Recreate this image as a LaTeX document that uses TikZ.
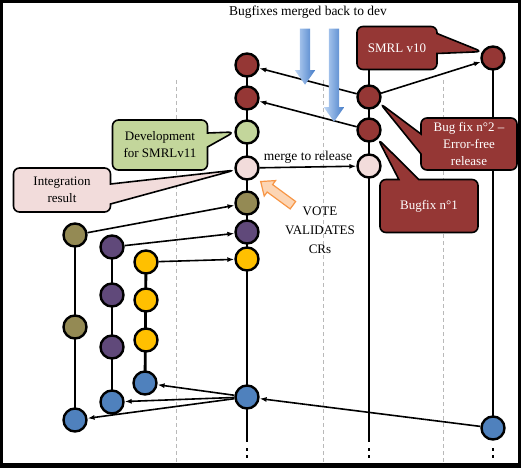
\documentclass[tikz,border=0pt]{standalone}
\usepackage{fontspec}
\setmainfont{Liberation Serif}
\usetikzlibrary{arrows.meta,shapes.callouts,shapes.arrows,backgrounds}
\definecolor{GitRed}{RGB}{149,55,53}
\definecolor{GitGreen}{RGB}{195,214,155}
\definecolor{GitPink}{RGB}{242,220,219}
\definecolor{GitOlive}{RGB}{148,138,84}
\definecolor{GitPurple}{RGB}{96,73,122}
\definecolor{GitYellow}{RGB}{255,192,0}
\definecolor{GitBlue}{RGB}{79,129,189}
\definecolor{GitArrowBlue}{RGB}{70,125,200}
\definecolor{GitLightBlue}{RGB}{190,214,245}
\definecolor{GitOrange}{RGB}{247,150,70}
\definecolor{GitPeach}{RGB}{252,213,180}
\definecolor{GitGuide}{RGB}{185,185,185}
\tikzset{
  git/commit/.style={
    circle,
    draw=black,
    line width=2.4pt,
    minimum size=23pt,
    inner sep=0pt
  },
  git/red/.style={git/commit, fill=GitRed},
  git/green/.style={git/commit, fill=GitGreen},
  git/pink/.style={git/commit, fill=GitPink},
  git/olive/.style={git/commit, fill=GitOlive},
  git/purple/.style={git/commit, fill=GitPurple},
  git/yellow/.style={git/commit, fill=GitYellow},
  git/blue/.style={git/commit, fill=GitBlue},
  git/branch/.style={line width=2.8pt, draw=black},
  git/tail/.style={line width=2.8pt, draw=black, dash pattern=on 3pt off 4pt},
  git/merge/.style={-{Latex[length=7pt,width=5pt]}, line width=1.6pt, draw=black},
  git/guide/.style={draw=GitGuide, line width=0.8pt, dash pattern=on 4pt off 3pt},
  git/callout/.style={
    rectangle callout,
    draw=black,
    line width=1.6pt,
    rounded corners=6pt,
    align=center,
    inner sep=3pt,
    callout pointer width=20pt,
    font=\fontsize{13}{17}\selectfont
  },
  git/redcall/.style={git/callout, fill=GitRed, text=white},
  git/greencall/.style={git/callout, fill=GitGreen},
  git/pinkcall/.style={git/callout, fill=GitPink},
  git/bigarrow/.style={
    single arrow,
    draw=none,
    inner sep=5pt,
    single arrow head extend=5pt,
    single arrow tip angle=70,
    left color=GitLightBlue,
    right color=GitArrowBlue,
    rotate=-90
  },
  git/vote/.style={
    single arrow,
    draw=GitOrange,
    fill=GitPeach,
    line width=1.2pt,
    inner sep=4pt,
    single arrow head extend=5pt,
    single arrow tip angle=80
  },
  git/title/.style={font=\fontsize{13.5}{15}\selectfont},
  git/label/.style={font=\fontsize{13}{19}\selectfont, align=center}
}

\begin{document}
\begin{tikzpicture}[x=1pt,y=-1pt]
  \useasboundingbox (0,0) rectangle (521,468);
  \draw[line width=3pt] (1.5,1.5) rectangle (519.5,465);
  \fill (0,463) rectangle (521,468);

  % commits on the main line
  \node[git/red] (m1) at (247,65) {};
  \node[git/red] (m2) at (247,98) {};
  \node[git/green] (m3) at (247,132) {};
  \node[git/pink] (m4) at (247,168) {};
  \node[git/olive] (m5) at (247,203) {};
  \node[git/purple] (m6) at (247,232) {};
  \node[git/yellow] (m7) at (247,259) {};
  \node[git/blue] (m8) at (247,397) {};
  % release line and v10
  \node[git/red] (r1) at (369,97) {};
  \node[git/red] (r2) at (369,130) {};
  \node[git/pink] (r3) at (369,166) {};
  \node[git/red] (v1) at (493,58) {};
  \node[git/blue] (v2) at (493,428) {};
  % feature lines
  \node[git/olive] (o1) at (75,235) {};
  \node[git/olive] (o2) at (75,327) {};
  \node[git/blue] (o3) at (75,420) {};
  \node[git/purple] (p1) at (112,247) {};
  \node[git/purple] (p2) at (112,295) {};
  \node[git/purple] (p3) at (112,347) {};
  \node[git/blue] (p4) at (112,402) {};
  \node[git/yellow] (y1) at (146,262) {};
  \node[git/yellow] (y2) at (146,300) {};
  \node[git/yellow] (y3) at (146,340) {};
  \node[git/blue] (y4) at (145,383) {};

  \node[git/redcall, minimum width=80pt, minimum height=43pt,
    callout absolute pointer={(v1.150)}] (smrl) at (397,48) {SMRL v10};

  \coordinate (mEnd) at (247,442);
  \coordinate (rEnd) at (369,442);
  \coordinate (mDot) at (247,448);
  \coordinate (rDot) at (369,448);
  \coordinate (vDot) at (493,448);

  \begin{scope}[on background layer]
    \draw[git/guide] (176,80) -- (176,462);
    \draw[git/guide] (323,80) -- (323,462);
    \draw[git/guide] (443,80) -- (443,462);
    \draw[git/branch] (m1.center) -- (mEnd);
    \draw[git/branch] (smrl.south -| r1) -- (rEnd);
    \draw[git/branch] (v1.center) -- (v2.center);
    \draw[git/branch] (o1.center) -- (o3.center);
    \draw[git/branch] (p1.center) -- (p4.center);
    \draw[git/branch] (y1.center) -- (y4.center);
    \draw[git/tail] (mDot) -- ++(0,11);
    \draw[git/tail] (rDot) -- ++(0,11);
    \draw[git/tail] (vDot) -- ++(0,11);
  \end{scope}

  \draw[git/merge] (r1) -- (m1);
  \draw[git/merge] (r2) -- (m2);
  \draw[git/merge] (r1) -- (v1);
  \draw[git/merge] (m4) -- node[above=-1pt, font=\fontsize{13.5}{15}\selectfont] (mlabel) {merge to release} (r3);
  \draw[git/merge] (o1) -- (m5);
  \draw[git/merge] (p1) -- (m6);
  \draw[git/merge] (y1) -- (m7);
  \draw[git/merge] (m8) -- (y4);
  \draw[git/merge] (m8) -- (p4);
  \draw[git/merge] (m8) -- (o3);
  \draw[git/merge] (v2) -- (m8);

  % bugfixes back to dev
  \node[git/title] (backtitle) at (308,12) {Bugfixes merged back to dev};
  \node[git/bigarrow, minimum height=56pt] (fix1) at (305,53) {};
  \node[git/bigarrow, minimum height=93pt] (fix2) at (334,71.5) {};

  \node[git/redcall, minimum width=96pt, minimum height=52pt,
    callout absolute pointer={(r1.-30)}] (fixtwo) at (469,144) {Bug fix n°2 –\\Error-free\\release};
  \node[git/redcall, minimum width=98pt, minimum height=53pt,
    callout absolute pointer={(r2.-45)}] (fixone) at (429,206) {Bugfix n°1};
  \node[git/greencall, minimum width=95pt, minimum height=50pt, callout pointer width=14pt,
    callout absolute pointer={(m3.west)}] (dev) at (160,145) {Development\\for SMRLv11};
  \node[git/pinkcall, minimum width=97pt, minimum height=44pt,
    callout absolute pointer={(m4.190)}] (integ) at (62,190) {Integration\\result};

  \node[git/vote, minimum height=40pt, rotate=143.7] (votearrow) at (279,195) {};
  \node[git/label] (vote) at (320,230) {VOTE\\VALIDATES\\CRs};
\end{tikzpicture}
\end{document}
